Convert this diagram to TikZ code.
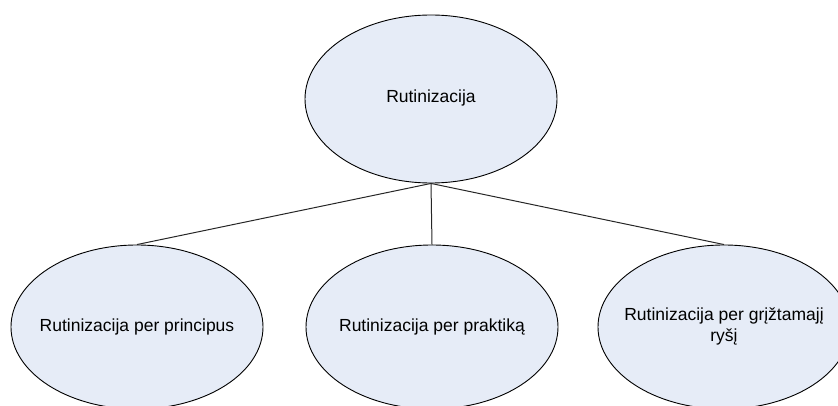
\documentclass[tikz,border=0pt]{standalone}
\usepackage{fontspec}
\setmainfont{Liberation Sans}
\usetikzlibrary{shapes.geometric}
\definecolor{bubblefill}{HTML}{E6ECF7}
% zero-width box so the ellipse size comes only from the minimum sizes
\newcommand{\bubbletext}[1]{\makebox[0pt][c]{\begin{tabular}{@{}c@{}}#1\end{tabular}}}
\tikzset{
  bubble/.style={ellipse, draw=black, line width=0.9pt, fill=bubblefill,
    inner sep=0pt, minimum width=252pt, minimum height=168pt,
    font=\fontsize{17.5}{20}\selectfont},
  link/.style={draw=black!85, line width=1pt}
}
\begin{document}
\begin{tikzpicture}[x=1pt, y=-1pt]
  \useasboundingbox (0,0) rectangle (838,406);
  \clip (0,0) rectangle (838,406);
  \node[bubble] (root) at (431,99) {\bubbletext{Rutinizacija}};
  \node[bubble, minimum height=164pt] (a) at (137,327) {\bubbletext{Rutinizacija per principus}};
  \node[bubble, minimum height=164pt] (b) at (432,327) {\bubbletext{Rutinizacija per praktiką}};
  \node[bubble, minimum height=164pt] (c) at (724,327) {\bubbletext{Rutinizacija per grįžtamajį\\ryšį}};
  \draw[link] (root.south) -- (a.north);
  \draw[link] (root.south) -- (b.north);
  \draw[link] (root.south) -- (c.north);
\end{tikzpicture}
\end{document}
